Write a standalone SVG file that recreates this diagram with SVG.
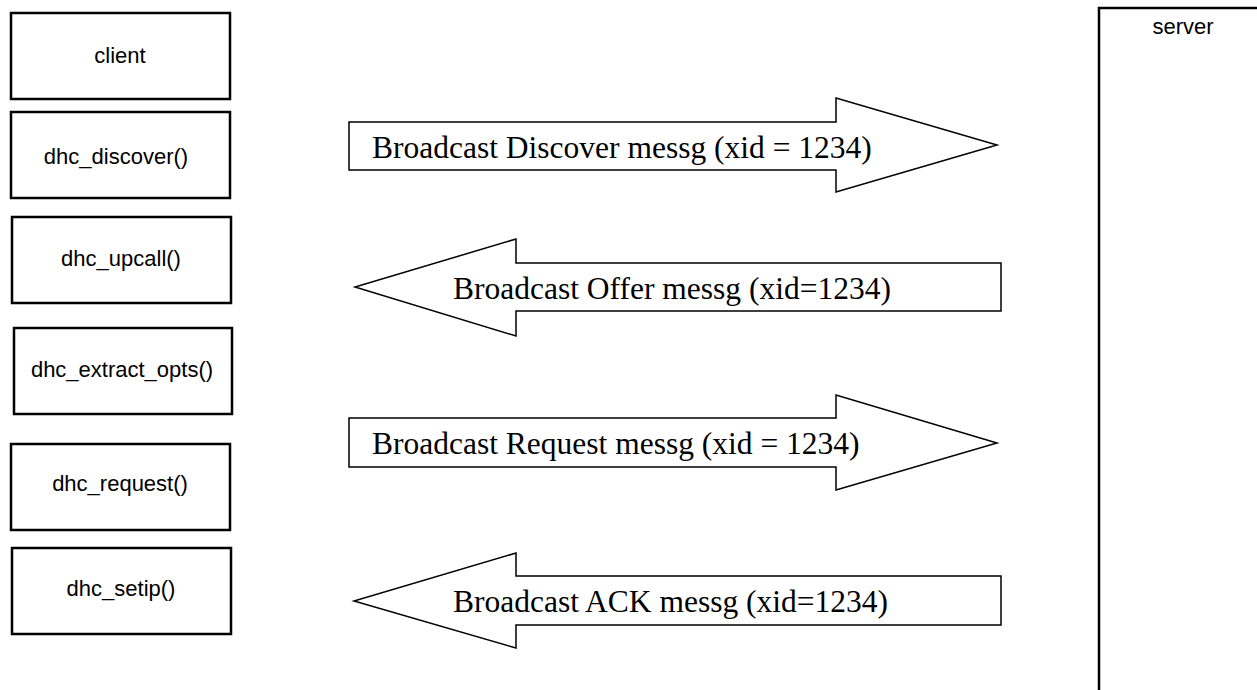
<svg xmlns="http://www.w3.org/2000/svg" width="1257" height="690" viewBox="0 0 1257 690">
<style>
.box{fill:#fff;stroke:#000;stroke-width:2.5}
.lbl{font-family:"Liberation Sans",Arial,sans-serif;font-size:22px;fill:#000;text-anchor:middle}
.arr{fill:#fff;stroke:#000;stroke-width:1.5;stroke-linejoin:miter}
.msg{font-family:"Liberation Serif","Times New Roman",serif;font-size:31.5px;fill:#000}
</style>
<rect width="1257" height="690" fill="#fff"/>
<g id="client"><rect class="box" x="11" y="13" width="219" height="86"/><text class="lbl" x="120" y="63">client</text></g>
<g id="dhc_discover"><rect class="box" x="11" y="112" width="219" height="86"/><text class="lbl" x="116" y="164">dhc_discover()</text></g>
<g id="dhc_upcall"><rect class="box" x="12" y="217" width="219" height="86"/><text class="lbl" x="121" y="266">dhc_upcall()</text></g>
<g id="dhc_extract_opts"><rect class="box" x="14" y="328" width="218" height="86"/><text class="lbl" x="122" y="377">dhc_extract_opts()</text></g>
<g id="dhc_request"><rect class="box" x="11" y="444" width="219" height="86"/><text class="lbl" x="120" y="491">dhc_request()</text></g>
<g id="dhc_setip"><rect class="box" x="12" y="548" width="219" height="86"/><text class="lbl" x="121" y="596">dhc_setip()</text></g>
<g id="server"><rect class="box" x="1099" y="8" width="220" height="700"/><text class="lbl" x="1183" y="34">server</text></g>
<g id="connectors">
<g id="discover_msg"><polygon class="arr" points="349,122 836,122 836,98 997,145 836,192 836,170 349,170"/><text class="msg" x="372" y="158">Broadcast Discover messg (xid = 1234)</text></g>
<g id="offer_msg"><polygon class="arr" points="1001,263 516,263 516,239 355,287 516,336 516,311 1001,311"/><text class="msg" x="453" y="299">Broadcast Offer messg (xid=1234)</text></g>
<g id="request_msg"><polygon class="arr" points="349,418 836,418 836,395 997,443 836,490 836,467 349,467"/><text class="msg" x="372" y="454">Broadcast Request messg (xid = 1234)</text></g>
<g id="ack_msg"><polygon class="arr" points="1001,576 516,576 516,553 354,601 516,648 516,625 1001,625"/><text class="msg" x="453" y="612">Broadcast ACK messg (xid=1234)</text></g>
</g>
</svg>
